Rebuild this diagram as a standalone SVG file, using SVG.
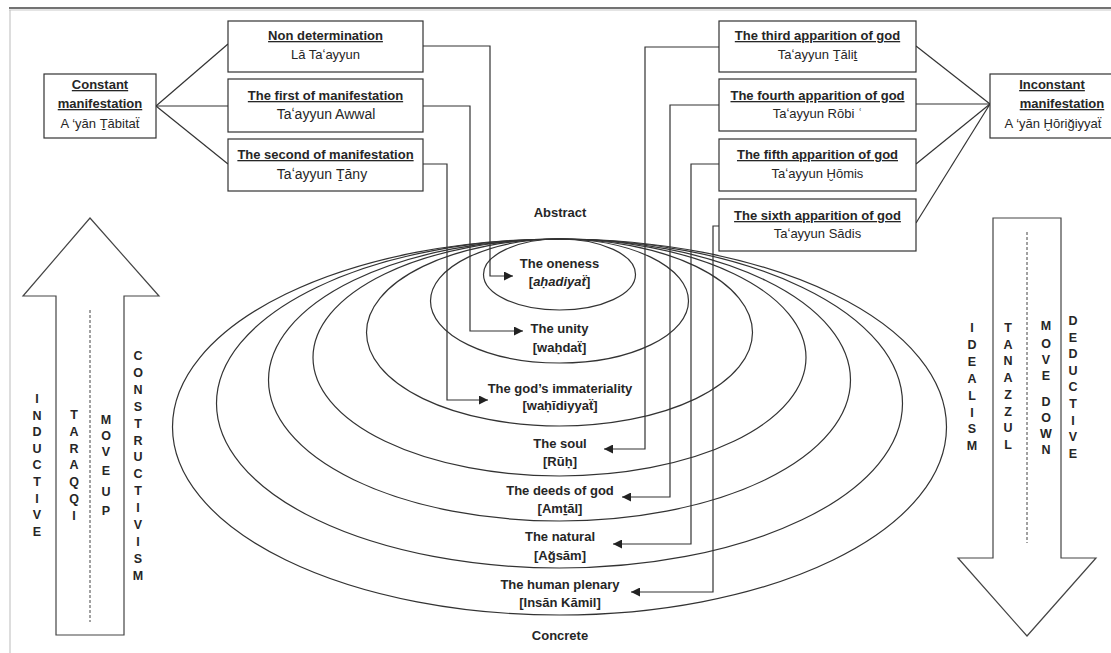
<svg xmlns="http://www.w3.org/2000/svg" width="1111" height="653" viewBox="0 0 1111 653">
<defs>
<style>
text{font-family:"Liberation Sans",Arial,sans-serif;font-size:13px;fill:#262626;text-anchor:middle}
.b{font-weight:bold}
.u{text-decoration:underline}
.box{fill:#fff;stroke:#333;stroke-width:1.2}
.ln{fill:none;stroke:#333;stroke-width:1.2}
.el{fill:none;stroke:#333;stroke-width:1.2}
.arr{fill:#fff;stroke:#444;stroke-width:1.2}
.dash{stroke:#444;stroke-width:1;stroke-dasharray:3 2}
.vt{font-weight:bold;font-size:12.5px}
.w{font-size:14px}
</style>
<marker id="ah" viewBox="0 0 10 10" refX="10" refY="5" markerWidth="10" markerHeight="9" markerUnits="userSpaceOnUse" orient="auto">
<path d="M0,0 L10,5 L0,10 z" fill="#222"/>
</marker>
</defs>
<rect width="1111" height="653" fill="#fff"/>
<g id="frame">
<line x1="9" y1="8" x2="1111" y2="8" stroke="#444" stroke-width="1.5"/>
<line x1="9" y1="10" x2="1111" y2="10" stroke="#bbb" stroke-width="0.8"/>
<line x1="10" y1="10" x2="10" y2="653" stroke="#bbb" stroke-width="1"/>
</g>
<g id="ellipses">
<ellipse class="el" cx="559.5" cy="427" rx="387" ry="188"/>
<ellipse class="el" cx="559.5" cy="403.5" rx="343" ry="164.5"/>
<ellipse class="el" cx="559.5" cy="380" rx="291" ry="141"/>
<ellipse class="el" cx="559.5" cy="357.5" rx="246.5" ry="118.5"/>
<ellipse class="el" cx="559.5" cy="332.5" rx="193" ry="93.5"/>
<ellipse class="el" cx="559.5" cy="301" rx="129" ry="62"/>
<ellipse class="el" cx="559.5" cy="274.5" rx="76" ry="35.5"/>
</g>
<g id="connectors">
<line class="ln" x1="156" y1="106" x2="228" y2="44"/>
<line class="ln" x1="156" y1="106" x2="228" y2="106"/>
<line class="ln" x1="156" y1="106" x2="228" y2="164"/>
<line class="ln" x1="916" y1="46" x2="990" y2="104"/>
<line class="ln" x1="916" y1="104" x2="990" y2="104"/>
<line class="ln" x1="916" y1="164" x2="990" y2="104"/>
<line class="ln" x1="916" y1="223" x2="990" y2="104"/>
<path class="ln" d="M423,46 H490 V276 H513" marker-end="url(#ah)"/>
<path class="ln" d="M423,106 H470 V331 H523" marker-end="url(#ah)"/>
<path class="ln" d="M423,164 H447 V400 H488" marker-end="url(#ah)"/>
<path class="ln" d="M719,47 H645 V449 H604" marker-end="url(#ah)"/>
<path class="ln" d="M719,105 H670 V497 H622" marker-end="url(#ah)"/>
<path class="ln" d="M719,164 H691 V544 H613" marker-end="url(#ah)"/>
<path class="ln" d="M719,226 H713 V592 H631" marker-end="url(#ah)"/>
</g>
<g id="constant">
<rect class="box" x="44" y="74" width="112" height="64"/>
<text x="100" y="89" class="b u">Constant</text>
<text x="100" y="108" class="b u">manifestation</text>
<text x="100" y="128">A ‘yān Ṯābitaẗ</text>
</g>
<g id="non-determination">
<rect class="box" x="228" y="21" width="195" height="51"/>
<text x="325.5" y="40" class="b u">Non determination</text>
<text x="325.5" y="59">Lā Taʻayyun</text>
</g>
<g id="first-manifestation">
<rect class="box" x="228" y="79" width="195" height="53"/>
<text x="325.5" y="100" class="b u">The first of manifestation</text>
<text x="326" y="119" class="w">Taʻayyun Awwal</text>
</g>
<g id="second-manifestation">
<rect class="box" x="228" y="139" width="195" height="52"/>
<text x="325.5" y="159" class="b u">The second of manifestation</text>
<text x="322" y="179" class="w">Taʻayyun Ṯāny</text>
</g>
<g id="third-apparition">
<rect class="box" x="719" y="21" width="197" height="51"/>
<text x="817.5" y="40" class="b u">The third apparition of god</text>
<text x="817.5" y="59">Taʻayyun Ṯāliṯ</text>
</g>
<g id="fourth-apparition">
<rect class="box" x="719" y="79" width="197" height="52"/>
<text x="817.5" y="100" class="b u">The fourth apparition of god</text>
<text x="817.5" y="118">Taʻayyun Rōbi ʿ</text>
</g>
<g id="fifth-apparition">
<rect class="box" x="719" y="139" width="197" height="52"/>
<text x="817.5" y="159" class="b u">The fifth apparition of god</text>
<text x="817.5" y="178">Taʻayyun Ḫōmis</text>
</g>
<g id="sixth-apparition">
<rect class="box" x="719" y="199" width="197" height="52"/>
<text x="817.5" y="220" class="b u">The sixth apparition of god</text>
<text x="817.5" y="238">Taʻayyun Sādis</text>
</g>
<g id="inconstant">
<rect class="box" x="990" y="74" width="140" height="64"/>
<text x="1052" y="89" class="b u">Inconstant </text>
<text x="1062" y="108" class="b u">manifestation</text>
<text x="1053" y="128">A ‘yān Ḫōriğiyyaẗ</text>
</g>
<g id="labels">
<text x="560" y="217" class="b">Abstract</text>
<text x="559.5" y="268" class="b">The oneness</text>
<text x="559.5" y="286" class="b">[<tspan font-style="italic">aḥadiyaẗ</tspan>]</text>
<text x="559.5" y="333" class="b">The unity</text>
<text x="559.5" y="352" class="b">[waḥdaẗ]</text>
<text x="560" y="393" class="b">The god’s immateriality</text>
<text x="560" y="410" class="b">[waḥīdiyyaẗ]</text>
<text x="560" y="448" class="b">The soul</text>
<text x="560" y="466" class="b">[Rūḥ]</text>
<text x="560" y="495" class="b">The deeds of god</text>
<text x="560" y="513" class="b">[Amṯāl]</text>
<text x="560" y="541" class="b">The natural</text>
<text x="560" y="560" class="b">[Ağsām]</text>
<text x="560" y="589" class="b">The human plenary</text>
<text x="560" y="607" class="b">[Insān Kāmil]</text>
<text x="560" y="640" class="b">Concrete</text>
</g>
<g id="up-arrow">
<polygon class="arr" points="90,218 159,296 124,296 124,635 56,635 56,296 23,296"/>
<line class="dash" x1="90" y1="310" x2="90" y2="622"/>
<text class="vt"><tspan x="37" y="403">I</tspan><tspan x="37" y="419.6">N</tspan><tspan x="37" y="436.2">D</tspan><tspan x="37" y="452.8">U</tspan><tspan x="37" y="469.4">C</tspan><tspan x="37" y="486">T</tspan><tspan x="37" y="502.6">I</tspan><tspan x="37" y="519.2">V</tspan><tspan x="37" y="535.8">E</tspan></text>
<text class="vt"><tspan x="74" y="419">T</tspan><tspan x="74" y="435.8">A</tspan><tspan x="74" y="452.6">R</tspan><tspan x="74" y="469.4">A</tspan><tspan x="74" y="486.2">Q</tspan><tspan x="74" y="503">Q</tspan><tspan x="74" y="519.8">I</tspan></text>
<text class="vt"><tspan x="106" y="423.5">M</tspan><tspan x="106" y="439.5">O</tspan><tspan x="106" y="456">V</tspan><tspan x="106" y="474.5">E</tspan><tspan x="106" y="496">U</tspan><tspan x="106" y="514.5">P</tspan></text>
<text class="vt"><tspan x="138" y="360">C</tspan><tspan x="138" y="376.9">O</tspan><tspan x="138" y="393.8">N</tspan><tspan x="138" y="410.7">S</tspan><tspan x="138" y="427.6">T</tspan><tspan x="138" y="444.5">R</tspan><tspan x="138" y="461.4">U</tspan><tspan x="138" y="478.3">C</tspan><tspan x="138" y="495.2">T</tspan><tspan x="138" y="512.1">I</tspan><tspan x="138" y="529">V</tspan><tspan x="138" y="545.9">I</tspan><tspan x="138" y="562.8">S</tspan><tspan x="138" y="579.7">M</tspan></text>
</g>
<g id="down-arrow">
<polygon class="arr" points="993,218 1061,218 1061,558 1096,558 1027,636 958,558 993,558"/>
<line class="dash" x1="1027" y1="232" x2="1027" y2="543"/>
<text class="vt"><tspan x="972" y="332">I</tspan><tspan x="972" y="348.9">D</tspan><tspan x="972" y="365.8">E</tspan><tspan x="972" y="382.7">A</tspan><tspan x="972" y="399.6">L</tspan><tspan x="972" y="416.5">I</tspan><tspan x="972" y="433.4">S</tspan><tspan x="972" y="450.3">M</tspan></text>
<text class="vt"><tspan x="1008" y="332">T</tspan><tspan x="1008" y="348.7">A</tspan><tspan x="1008" y="365.4">N</tspan><tspan x="1008" y="382.1">A</tspan><tspan x="1008" y="398.8">Z</tspan><tspan x="1008" y="415.5">Z</tspan><tspan x="1008" y="432.2">U</tspan><tspan x="1008" y="449">L</tspan></text>
<text class="vt"><tspan x="1046" y="330">M</tspan><tspan x="1046" y="347.5">O</tspan><tspan x="1046" y="363.5">V</tspan><tspan x="1046" y="379.5">E</tspan><tspan x="1046" y="406">D</tspan><tspan x="1046" y="421.5">O</tspan><tspan x="1046" y="437.5">W</tspan><tspan x="1046" y="453.5">N</tspan></text>
<text class="vt"><tspan x="1073" y="325">D</tspan><tspan x="1073" y="341.6">E</tspan><tspan x="1073" y="358.2">D</tspan><tspan x="1073" y="374.8">U</tspan><tspan x="1073" y="391.4">C</tspan><tspan x="1073" y="408">T</tspan><tspan x="1073" y="424.6">I</tspan><tspan x="1073" y="441.2">V</tspan><tspan x="1073" y="457.8">E</tspan></text>
</g>
</svg>
